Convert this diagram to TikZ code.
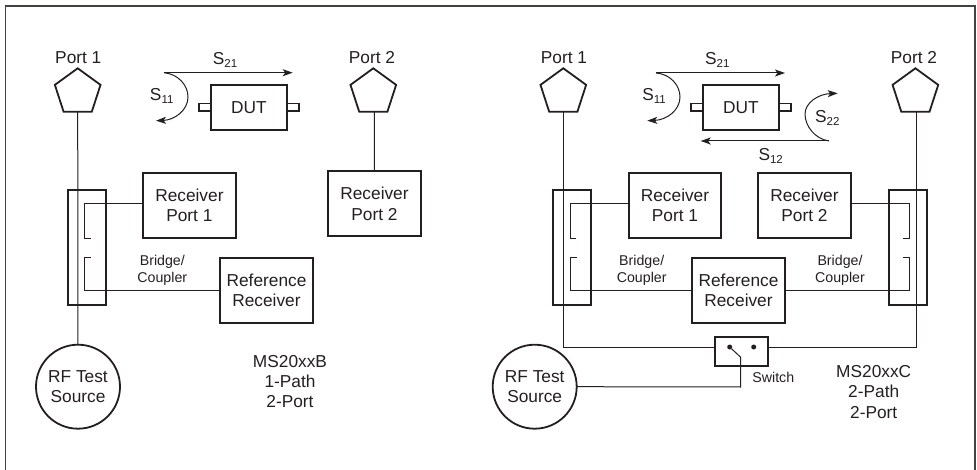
\documentclass[tikz,border=0pt]{standalone}
\usepackage{fontspec}
\setmainfont{Liberation Sans}
\usetikzlibrary{shapes.geometric,arrows.meta,calc}
\newcommand{\Sp}[1]{S\raisebox{-3.2pt}{\fontsize{11.5}{12}\selectfont #1}}
\definecolor{ink}{HTML}{231F20}
\tikzset{
  every node/.style={text=ink,inner sep=0pt,outer sep=0pt},
  lab/.style={font=\fontsize{17.3}{20.3}\selectfont,align=center},
  smalllab/.style={font=\fontsize{14.2}{17}\selectfont,align=center},
  thin line/.style={draw=ink,line width=1pt},
  heavy/.style={draw=ink,line width=1.8pt},
  box/.style={heavy,rectangle,lab,minimum width=92.6pt,minimum height=65pt},
  portpent/.style={heavy,regular polygon,regular polygon sides=5,minimum size=48pt,miter limit=10},
  bridge/.style={heavy,rectangle,minimum width=38pt,minimum height=115.3pt},
  dut/.style={heavy,rectangle,lab,minimum width=76.6pt,minimum height=45pt},
  stub/.style={heavy,rectangle,line width=1.4pt,minimum width=11.7pt,minimum height=7.3pt},
  source/.style={heavy,circle,lab,minimum size=84pt},
  sw/.style={heavy,rectangle,minimum width=53pt,minimum height=28.7pt},
  swdot/.style={circle,fill=ink,minimum size=5pt},
  arr/.style={thin line,-{Stealth[length=10pt,width=7pt,inset=2.5pt]}},
}
\begin{document}
\begin{tikzpicture}[x=1pt,y=-1pt]
\useasboundingbox (0,0) rectangle (977,470);
\coordinate (fa) at (5.5,470); \coordinate (fb) at (5.5,6); \coordinate (fc) at (975,6); \coordinate (fd) at (975,470);
\draw[draw=ink!85,line width=1.3pt] (fa) -- (fb) -- (fc) -- (fd);

% ---------- left: 1-path
\node[lab] (lp1) at (78.3,58) {Port 1};
\node[portpent] (lpp1) at (77.7,92.3) {};
\node[lab] (lp2) at (372,57.5) {Port 2};
\node[portpent] (lpp2) at (373.3,92.3) {};
\node[bridge] (lbr) at (86.7,247.6) {};
\node[box] (lrx1) at (189.4,205.2) {Receiver\\Port 1};
\node[box] (lrx2) at (374.5,203.8) {Receiver\\Port 2};
\node[box] (lref) at (266.5,290.6) {Reference\\Receiver};
\node[source] (lsrc) at (78,386.7) {RF Test\\Source};
\node[smalllab] (lbc) at (162.3,270.8) {Bridge/\\Coupler};
\node[lab] (lms) at (290,381.7) {MS20xxB\\1-Path\\2-Port};
\node[dut] (ldut) at (249,107.2) {DUT};
\node[stub,anchor=east] (lsl) at (ldut.west) {};
\node[stub,anchor=west] (lsr) at (ldut.east) {};
\node[lab] (ls21) at (225,60) {\Sp{21}};
\node[lab] (ls11) at (161.7,96) {\Sp{11}};
\coordinate (la) at (164,72.7);
\coordinate (lb) at (292.7,72.7);
\coordinate (lc) at (156,120.7);
\coordinate (lu1) at (84.7,204);
\coordinate (lu2) at (84.7,239);
\coordinate (lu3) at (90.7,239);
\coordinate (ll1) at (91,257.3);
\coordinate (ll2) at (84.7,257.3);
\coordinate (ll3) at (84.7,290.7);
\draw[thin line] (lpp1.south) -- (lsrc.north);
\draw[thin line] ([xshift=1pt]lpp2.south) -- (lrx2.north);
\draw[thin line] (lrx1.west |- lu1) -- (lu1) -- (lu2) -- (lu3);
\draw[thin line] (ll1) -- (ll2) -- (ll3) -- (lref.west |- ll3);
\draw[arr] (la) -- (lb);
\draw[arr] (la) .. controls (178,74) and (188,85) .. (188,97) .. controls (188,110) and (175,120) .. (lc);

% ---------- right: 2-path
\node[lab] (rp1) at (564,58) {Port 1};
\node[portpent] (rpp1) at (563.3,92.3) {};
\node[lab] (rp2) at (914,57.5) {Port 2};
\node[portpent] (rpp2) at (915.4,92.3) {};
\node[bridge] (rbr1) at (572,247.6) {};
\node[bridge] (rbr2) at (907.8,247.6) {};
\node[box] (rrx1) at (675,205.2) {Receiver\\Port 1};
\node[box] (rrx2) at (804.5,205.2) {Receiver\\Port 2};
\node[box] (rref) at (738.5,290.6) {Reference\\Receiver};
\node[source] (rsrc) at (534.7,386.7) {RF Test\\Source};
\node[smalllab] (rbc1) at (641.7,270.8) {Bridge/\\Coupler};
\node[smalllab] (rbc2) at (840,270.8) {Bridge/\\Coupler};
\node[lab] (rms) at (873.7,391.8) {MS20xxC\\2-Path\\2-Port};
\node[smalllab] (rswl) at (773.3,377.7) {Switch};
\node[sw] (rsw) at (741.5,351.3) {};
\node[swdot] (rd1) at (729.7,347) {};
\node[swdot] (rd2) at (753.7,347) {};
\node[dut] (rdut) at (741,107.2) {DUT};
\node[stub,anchor=east] (rsl) at (rdut.west) {};
\node[stub,anchor=west] (rsr) at (rdut.east) {};
\node[lab] (rs21) at (717.3,60) {\Sp{21}};
\node[lab] (rs11) at (654,96) {\Sp{11}};
\node[lab] (rs22) at (827.3,118) {\Sp{22}};
\node[lab] (rs12) at (770.7,156) {\Sp{12}};
\coordinate (ra) at (656,73);
\coordinate (rb) at (785,73);
\coordinate (rc) at (647.3,120.7);
\coordinate (re) at (829,141);
\coordinate (rf) at (700.7,141);
\coordinate (rg) at (837.7,93.3);
\coordinate (rh) at (563,347);
\coordinate (ri) at (916.7,347);
\coordinate (rj) at (740.7,357.3);
\coordinate (rk) at (740.7,387);
\coordinate (ru1) at (570.3,204);
\coordinate (ru2) at (570.3,239);
\coordinate (ru3) at (576.3,239);
\coordinate (rl1) at (576.6,257.3);
\coordinate (rl2) at (570.3,257.3);
\coordinate (rl3) at (570.3,290.7);
\coordinate (su1) at (909.3,204);
\coordinate (su2) at (909.3,239);
\coordinate (su3) at (903.3,239);
\coordinate (sl1) at (903,257.3);
\coordinate (sl2) at (909.3,257.3);
\coordinate (sl3) at (909.3,290.7);
\draw[thin line] (rpp1.south -| rh) -- (rh) -- (rsw.west |- rh);
\draw[thin line] (rpp2.south -| ri) -- (ri) -- (rsw.east |- ri);
\draw[thin line] (rsrc.east) -- (rk) -- (rj) -- (rd1);
\draw[thin line] (rrx1.west |- ru1) -- (ru1) -- (ru2) -- (ru3);
\draw[thin line] (rl1) -- (rl2) -- (rl3) -- (rref.west |- rl3);
\draw[thin line] (rrx2.east |- su1) -- (su1) -- (su2) -- (su3);
\draw[thin line] (sl1) -- (sl2) -- (sl3) -- (rref.east |- sl3);
\draw[arr] (ra) -- (rb);
\draw[arr] (ra) .. controls (670,74) and (680,85) .. (680,97) .. controls (680,110) and (667,120) .. (rc);
\draw[arr] (re) -- (rf);
\draw[arr] (re) .. controls (815,139) and (805,126) .. (805,114) .. controls (805,103) and (818,94) .. (rg);
\end{tikzpicture}
\end{document}
